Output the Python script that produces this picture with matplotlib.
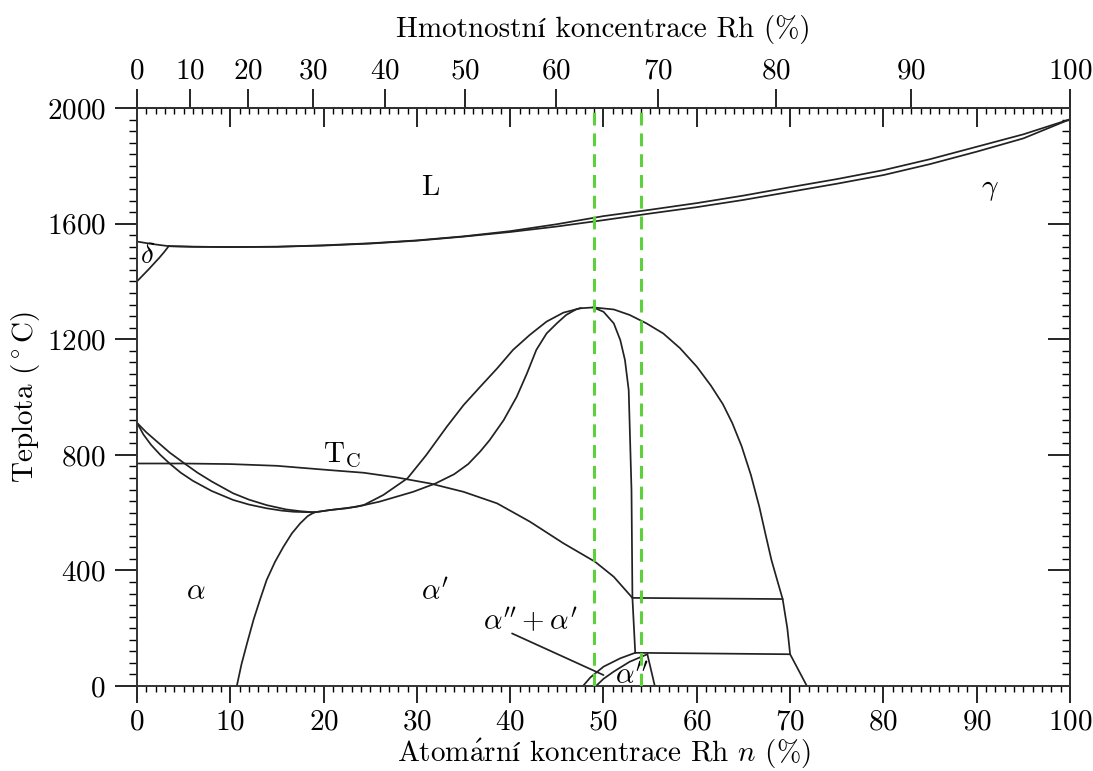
import numpy as np
import matplotlib

matplotlib.use("Agg")
import matplotlib.pyplot as plt
from matplotlib.ticker import MultipleLocator, NullLocator

plt.rcParams.update({
    "font.family": ["cmr10", "STIXGeneral"],
    "mathtext.fontset": "cm",
    "axes.formatter.use_mathtext": True,
    "font.size": 21,
})

M_FE = 55.845
M_RH = 102.906

# Fe-Rh phase boundaries: x in at.% Rh, T in deg C
liq_x = [3.4, 6, 10, 15, 20, 25, 30, 35, 40, 45, 50, 55, 60, 65, 70, 75, 80, 85, 90, 95, 100]
liq_t = [1522, 1520, 1519, 1520, 1525, 1532, 1542, 1556, 1574, 1598, 1626, 1648, 1671, 1697,
         1726, 1754, 1785, 1823, 1866, 1909, 1961]
sol_x = [3.4, 6, 10, 15, 20, 25, 30, 35, 40, 45, 50, 55, 60, 65, 70, 75, 80, 85, 90, 95, 100]
sol_t = [1522, 1520, 1519, 1520, 1524, 1531, 1541, 1555, 1571, 1590, 1612, 1635, 1657, 1682,
         1710, 1738, 1768, 1806, 1849, 1895, 1961]

delta_top_x = [0, 1.5, 3.4]
delta_top_t = [1538, 1530, 1522]
delta_low_x = [0, 1.2, 2.4, 3.0, 3.4]
delta_low_t = [1400, 1440, 1482, 1505, 1522]

gamma_left_x = [0, 1, 2, 3.5, 5.1, 6.5, 8, 10.3, 12, 13.9, 16, 17.5, 19.0]
gamma_left_t = [911, 878, 850, 808, 770, 738, 708, 667, 645, 626, 611, 605, 601]
alpha_left_x = [0, 0.7, 1.5, 2.5, 3.5, 4.7, 6, 8, 10.3, 12, 13.9, 15.5, 16.8, 19.0]
alpha_left_t = [911, 870, 835, 800, 770, 738, 710, 675, 644, 628, 615, 607, 603, 601]

alpha_lim_x = [10.7, 11.2, 11.8, 12.5, 13.2, 13.9, 14.8, 15.7, 16.6, 17.5, 18.3, 19.0]
alpha_lim_t = [0, 75, 148, 230, 300, 367, 430, 482, 528, 563, 588, 601]

rise_up_x = [19.0, 20.7, 22.5, 24.3, 26.4, 29.0, 31.0, 33.2, 35.0, 36.8, 38.6, 40.3, 42.1,
             43.9, 45.7, 47.5, 48.9]
rise_up_t = [601, 609, 615, 626, 661, 719, 799, 897, 972, 1036, 1099, 1163, 1215,
             1261, 1292, 1307, 1310]
rise_low_x = [19.0, 20.7, 23.5, 26.0, 29.6, 32.0, 34.0, 35.5, 36.8, 37.8, 39.3, 40.7, 41.8,
              42.8, 43.9, 45.0, 46.0, 47.1, 47.6]
rise_low_t = [601, 609, 620, 638, 672, 701, 733, 768, 812, 851, 920, 1001, 1082,
              1163, 1220, 1255, 1284, 1304, 1308]

dome_out_x = [48.9, 51.1, 52.8, 54.6, 56.4, 58.2, 60.0, 61.5, 62.8, 63.8, 64.8, 65.8, 66.7,
              67.4, 68.0, 68.6, 69.2, 69.7, 70.0, 70.9, 71.8]
dome_out_t = [1310, 1303, 1284, 1255, 1220, 1169, 1105, 1040, 975, 910, 830, 730, 620,
              520, 436, 368, 301, 200, 110, 55, 0]
dome_in_x = [48.9, 50.0, 51.1, 51.8, 52.3, 52.7, 52.8, 53.0, 53.1, 53.4]
dome_in_t = [1310, 1295, 1255, 1197, 1128, 1024, 909, 678, 305, 115]

tc_x = [0, 5, 10, 15, 20.7, 24.3, 27.8, 31.4, 35.0, 38.6, 42.1, 45.7, 49.1, 51.1, 53.1]
tc_t = [770, 770, 768, 762, 747, 738, 722, 701, 672, 632, 569, 494, 430, 378, 305]

tie_hi_x = [53.1, 69.2]
tie_hi_t = [305, 301]
tie_lo_x = [53.4, 70.0]
tie_lo_t = [115, 110]

lens_out_x = [47.8, 48.6, 50.0, 51.8, 53.4]
lens_out_t = [0, 30, 67, 96, 115]
lens_in_x = [49.2, 50.0, 51.1, 52.8, 54.7]
lens_in_t = [0, 25, 50, 84, 110]
lens_edge_x = [54.7, 55.1, 55.5]
lens_edge_t = [110, 55, 0]

leader_x = [40.2, 50.0]
leader_t = [182, 38]

marked_x = [49.0, 54.0]

labels = [
    ("L", 31.4, 1723),
    (r"$\gamma$", 91.4, 1716),
    (r"$\delta$", 1.1, 1488),
    (r"$\mathrm{T_C}$", 22.0, 799),
    (r"$\alpha$", 6.3, 325),
    (r"$\alpha'$", 31.9, 325),
    (r"$\alpha''+\alpha'$", 42.2, 222),
    (r"$\alpha''$", 53.0, 32),
]


def at_to_wt(x):
    x = np.asarray(x, dtype=float)
    return 100 * x * M_RH / (x * M_RH + (100 - x) * M_FE)


def wt_to_at(w):
    w = np.asarray(w, dtype=float)
    a = w / M_RH
    b = (100 - w) / M_FE
    return 100 * a / (a + b)


fig = plt.figure(figsize=(10.93, 7.71), dpi=100, facecolor="white")
ax = fig.add_axes([0.1253, 0.1102, 0.8537, 0.7497])

line_kw = dict(color="#222222", lw=1.25, solid_joinstyle="round", solid_capstyle="round")
curves = [
    (liq_x, liq_t), (sol_x, sol_t), (delta_top_x, delta_top_t), (delta_low_x, delta_low_t),
    (gamma_left_x, gamma_left_t), (alpha_left_x, alpha_left_t), (alpha_lim_x, alpha_lim_t),
    (rise_up_x, rise_up_t), (rise_low_x, rise_low_t), (dome_out_x, dome_out_t),
    (dome_in_x, dome_in_t), (tc_x, tc_t), (tie_hi_x, tie_hi_t), (tie_lo_x, tie_lo_t),
    (lens_out_x, lens_out_t), (lens_in_x, lens_in_t), (lens_edge_x, lens_edge_t),
    (leader_x, leader_t),
]
for cx, ct in curves:
    ax.plot(cx, ct, **line_kw)

ax.set_xlim(0, 100)
ax.set_ylim(0, 2000)
ax.vlines(marked_x, 0, 2000, colors="#5cd13c", lw=2.2, linestyles=(0, (4.2, 2.6)), zorder=5)

for text, tx, ty in labels:
    ax.text(tx, ty, text, ha="center", va="center", fontsize=21)

for side in ax.spines.values():
    side.set_linewidth(1.4)
    side.set_color("#333333")

# bottom / left: ticks outward
ax.xaxis.set_major_locator(MultipleLocator(10))
ax.xaxis.set_minor_locator(MultipleLocator(1))
ax.yaxis.set_major_locator(MultipleLocator(400))
ax.yaxis.set_minor_locator(MultipleLocator(40))
ax.tick_params(axis="x", which="major", direction="out", length=12.5, width=1.2, pad=4, top=False)
ax.tick_params(axis="x", which="minor", direction="out", length=4.5, width=1.0, top=False)
ax.tick_params(axis="y", which="major", direction="out", length=15.5, width=1.2, pad=7, right=False)
ax.tick_params(axis="y", which="minor", direction="out", length=5.5, width=1.0, right=False)

# top / right: atomic-% and temperature ticks pointing inward
top_in = ax.secondary_xaxis("top")
top_in.xaxis.set_major_locator(MultipleLocator(10))
top_in.xaxis.set_minor_locator(MultipleLocator(1))
top_in.tick_params(which="major", direction="in", length=13.5, width=1.2, labeltop=False)
top_in.tick_params(which="minor", direction="in", length=4.0, width=1.0)
top_in.spines["top"].set_linewidth(1.4)

right_in = ax.secondary_yaxis("right")
right_in.yaxis.set_major_locator(MultipleLocator(400))
right_in.yaxis.set_minor_locator(MultipleLocator(40))
right_in.tick_params(which="major", direction="in", length=15.5, width=1.2, labelright=False)
right_in.tick_params(which="minor", direction="in", length=5.5, width=1.0)
right_in.spines["right"].set_linewidth(1.4)

# weight-% scale on top
top_wt = ax.secondary_xaxis("top", functions=(at_to_wt, wt_to_at))
top_wt.set_xticks(np.arange(0, 101, 10))
top_wt.xaxis.set_minor_locator(NullLocator())
top_wt.tick_params(which="major", direction="out", length=14, width=1.2, pad=3)
top_wt.spines["top"].set_linewidth(1.4)
top_wt.set_xlabel("Hmotnostní koncentrace Rh (%)", labelpad=15)

ax.set_xlabel(r"Atom$\acute{\mathrm{a}}$rn$\mathrm{í}$ koncentrace Rh $n$ (%)", labelpad=1)
ax.set_ylabel("Teplota ($^\\circ$C)", labelpad=3)

fig.savefig("out.png", dpi=100, facecolor="white")
